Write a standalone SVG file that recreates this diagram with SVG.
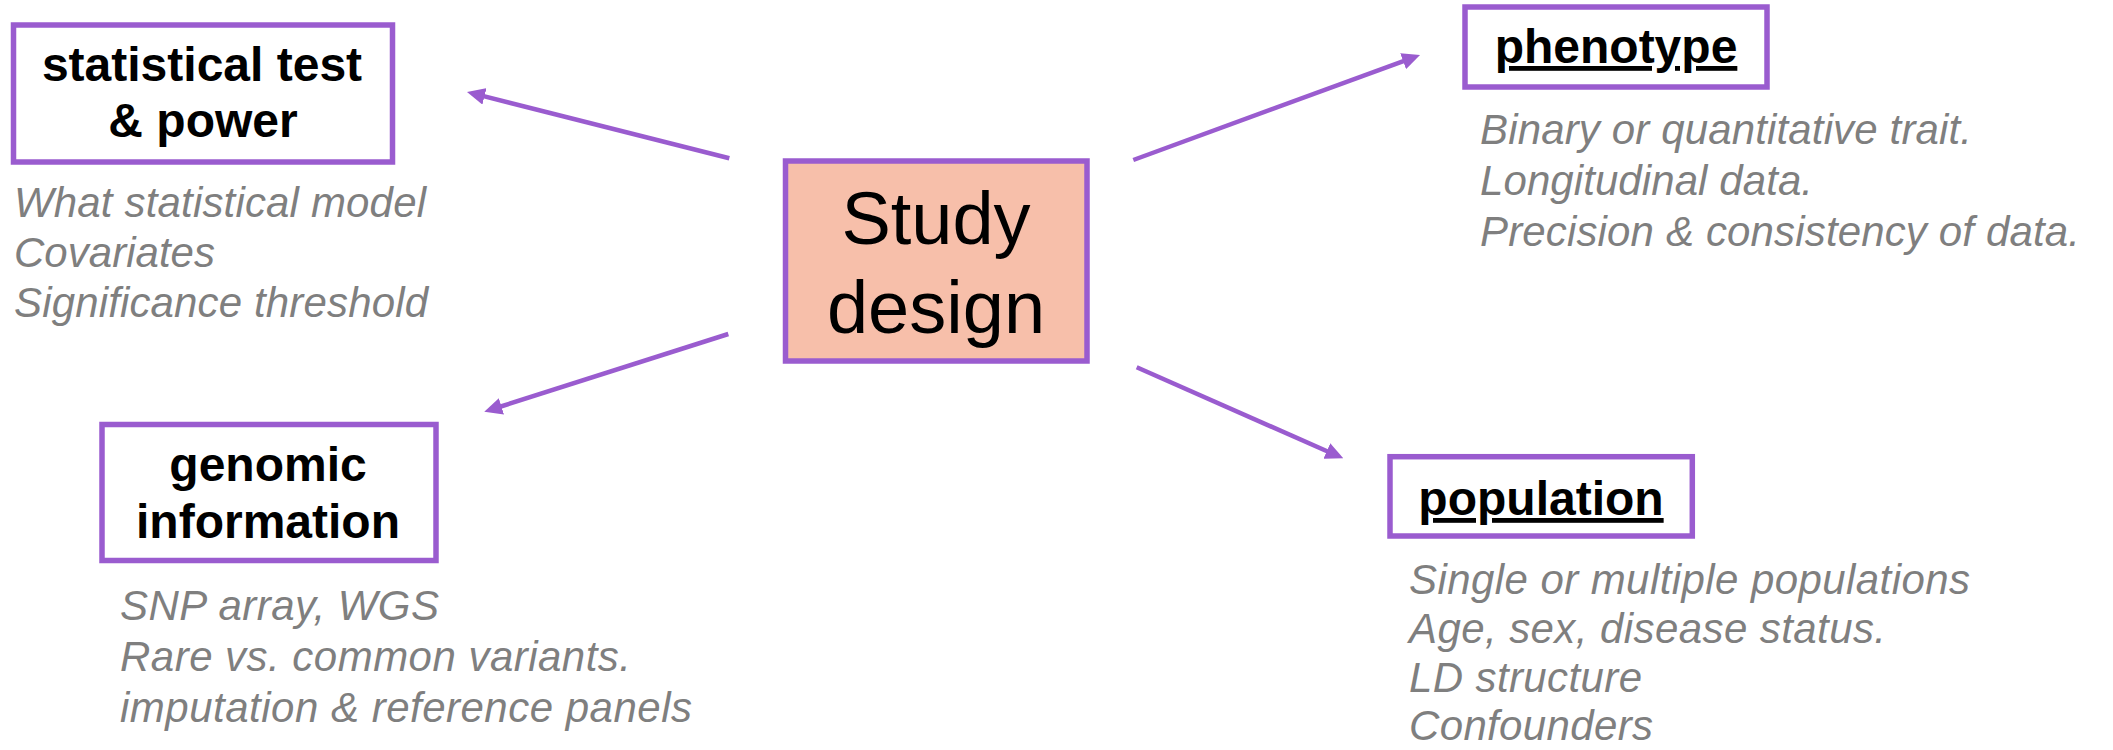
<svg xmlns="http://www.w3.org/2000/svg" width="2113" height="750" viewBox="0 0 2113 750">
  <style>
    .box { fill: #ffffff; stroke: #9a5ccf; stroke-width: 5.5; }
    .center { fill: #f7bfaa; stroke: #9a5ccf; stroke-width: 5.5; }
    .title { font-family: "Liberation Sans", Arial, sans-serif; font-weight: bold; font-size: 48px; fill: #000000; }
    .big { font-family: "Liberation Sans", Arial, sans-serif; font-size: 74px; fill: #000000; }
    .note { font-family: "Liberation Sans", Arial, sans-serif; font-style: italic; font-size: 42px; fill: #7f7f7f; }
    .conn { stroke: #9a5ccf; stroke-width: 4.5; fill: none; marker-end: url(#arrow); }
  </style>
  <defs>
    <marker id="arrow" markerUnits="userSpaceOnUse" markerWidth="18" markerHeight="17" refX="4" refY="8.5" orient="auto">
      <path d="M0,0 L18,8.5 L0,17 z" fill="#9a5ccf"/>
    </marker>
  </defs>
  <rect width="2113" height="750" fill="#ffffff"/>

  <g id="connectors">
    <line class="conn" x1="729.3" y1="158.3" x2="480.6" y2="95.4"/>
    <line class="conn" x1="1133.3" y1="160" x2="1406.9" y2="59.8"/>
    <line class="conn" x1="728.3" y1="334" x2="497.6" y2="407.5"/>
    <line class="conn" x1="1136.7" y1="367.3" x2="1330.5" y2="452.7"/>
  </g>

  <g id="study-design">
    <rect class="center" x="785.5" y="161" width="301.5" height="200"/>
    <text class="big" x="936" y="244" text-anchor="middle">Study</text>
    <text class="big" x="936" y="333" text-anchor="middle">design</text>
  </g>

  <g id="statistical-test">
    <rect class="box" x="13.5" y="25" width="379" height="137"/>
    <text class="title" x="202" y="81" text-anchor="middle">statistical test</text>
    <text class="title" x="203" y="137" text-anchor="middle">&amp; power</text>
    <text class="note" x="14" y="217" textLength="412">What statistical model</text>
    <text class="note" x="14" y="267" textLength="201">Covariates</text>
    <text class="note" x="14" y="317" textLength="414">Significance threshold</text>
  </g>

  <g id="phenotype">
    <rect class="box" x="1465" y="7" width="302" height="80"/>
    <text class="title" x="1616" y="63" text-anchor="middle" text-decoration="underline">phenotype</text>
    <text class="note" x="1480" y="144" textLength="492">Binary or quantitative trait.</text>
    <text class="note" x="1480" y="195" textLength="333">Longitudinal data.</text>
    <text class="note" x="1480" y="246" textLength="600">Precision &amp; consistency of data.</text>
  </g>

  <g id="genomic-information">
    <rect class="box" x="102" y="424.5" width="334" height="136"/>
    <text class="title" x="268" y="481" text-anchor="middle">genomic</text>
    <text class="title" x="268" y="538" text-anchor="middle">information</text>
    <text class="note" x="120" y="620" textLength="319">SNP array, WGS</text>
    <text class="note" x="120" y="671" textLength="511">Rare vs. common variants.</text>
    <text class="note" x="120" y="722" textLength="572">imputation &amp; reference panels</text>
  </g>

  <g id="population">
    <rect class="box" x="1390" y="456.7" width="302.3" height="79.3"/>
    <text class="title" x="1541" y="515" text-anchor="middle" text-decoration="underline">population</text>
    <text class="note" x="1409" y="594" textLength="561">Single or multiple populations</text>
    <text class="note" x="1409" y="643" textLength="477">Age, sex, disease status.</text>
    <text class="note" x="1409" y="692" textLength="233">LD structure</text>
    <text class="note" x="1409" y="740" textLength="244">Confounders</text>
  </g>
</svg>
